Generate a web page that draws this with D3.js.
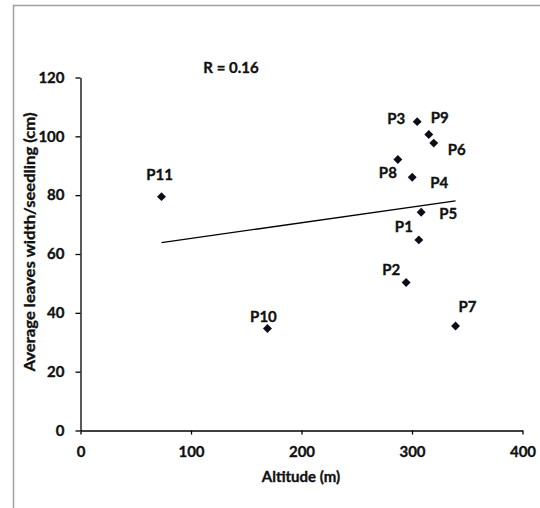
<!DOCTYPE html>
<html><head><meta charset="utf-8">
<script src="https://cdn.jsdelivr.net/npm/d3@7"></script>
<style>
html,body{margin:0;padding:0;background:#fff;}
svg text{font-family:Lato,"Open Sans",sans-serif;font-weight:bold;fill:#111;stroke:#111;stroke-width:0.35px;}
</style></head>
<body>
<svg id="chart" width="540" height="508"></svg>
<script>
// ---- data ----
const pointNames = ["P1","P2","P3","P4","P5","P6","P7","P8","P9","P10","P11"];
const altitude   = [306.2, 294.7, 304.7, 300.2, 308.3, 319.7, 339.4, 287.2, 315.2, 169.2, 73.3];
const leafWidth  = [64.8, 50.3, 105.0, 86.1, 74.2, 97.7, 35.5, 92.1, 100.6, 34.7, 79.5];
const xTicks = [0, 100, 200, 300, 400];
const yTicks = [0, 20, 40, 60, 80, 100, 120];
const rLabel = "R = 0.16";
const xTitle = "Altitude (m)";
const yTitle = "Average leaves width/seedling (cm)";

// ---- layout (label offsets in px relative to marker) ----
const labelLayout = {
  P1:{dx:-24,dy:-8,a:"start"}, P2:{dx:-24,dy:-8,a:"start"}, P3:{dx:-30,dy:2,a:"start"},
  P4:{dx:18,dy:11,a:"start"}, P5:{dx:18,dy:7,a:"start"}, P6:{dx:14,dy:12,a:"start"},
  P7:{dx:3,dy:-14,a:"start"}, P8:{dx:-19,dy:18,a:"start"}, P9:{dx:2,dy:-12,a:"start"},
  P10:{dx:-4,dy:-6,a:"middle"}, P11:{dx:-2,dy:-17,a:"middle"}
};

const svg = d3.select("#chart");
const x = d3.scaleLinear().domain([0,400]).range([80.5,522.5]);
const y = d3.scaleLinear().domain([0,120]).range([430.5,77.5]);

// frame
svg.append("path").attr("d","M13.5,508V5.5H540").attr("fill","none").attr("stroke","#a0a0a0").attr("stroke-width",1.5);

// axes
const xAxis = svg.append("g").attr("transform",`translate(0,${y(0)})`)
  .call(d3.axisBottom(x).tickValues(xTicks).tickSize(4).tickSizeOuter(0).tickPadding(12));
xAxis.select(".domain").attr("stroke","#000").attr("stroke-width",1.3);
xAxis.selectAll(".tick line").attr("stroke","#000").attr("stroke-width",1.3);
xAxis.selectAll("text").attr("font-size",15).attr("font-family","Lato").attr("font-weight","bold").attr("fill","#111");

const yAxis = svg.append("g").attr("transform",`translate(${x(0)},0)`)
  .call(d3.axisLeft(y).tickValues(yTicks).tickSize(5).tickSizeOuter(0).tickPadding(11));
yAxis.select(".domain").attr("stroke","#000").attr("stroke-width",1.3);
yAxis.selectAll(".tick line").attr("stroke","#000").attr("stroke-width",1.3);
yAxis.selectAll("text").attr("font-size",15).attr("font-family","Lato").attr("font-weight","bold").attr("fill","#111");

// titles
svg.append("text").attr("x",301).attr("y",482).attr("text-anchor","middle").attr("font-size",15).text(xTitle);
svg.append("text").attr("transform","translate(35,242) rotate(-90)").attr("text-anchor","middle")
  .attr("font-size",15).attr("textLength",259).attr("lengthAdjust","spacingAndGlyphs").text(yTitle);
svg.append("text").attr("x",231).attr("y",73).attr("text-anchor","middle").attr("font-size",15).text(rLabel);

// trend line (least squares)
const n = altitude.length;
const mx = d3.mean(altitude), my = d3.mean(leafWidth);
let sxy=0, sxx=0;
for(let i=0;i<n;i++){ sxy+=(altitude[i]-mx)*(leafWidth[i]-my); sxx+=(altitude[i]-mx)**2; }
const slope = sxy/sxx, icpt = my - slope*mx;
const [x0,x1] = d3.extent(altitude);
svg.append("line").attr("x1",x(x0)).attr("y1",y(icpt+slope*x0)).attr("x2",x(x1)).attr("y2",y(icpt+slope*x1))
  .attr("stroke","#000").attr("stroke-width",1.3);

// points
const pts = pointNames.map((p,i)=>({name:p, x:altitude[i], y:leafWidth[i]}));
svg.append("g").selectAll("path").data(pts).join("path")
  .attr("d",d3.symbol().type(d3.symbolSquare).size(40))
  .attr("transform",d=>`translate(${x(d.x)},${y(d.y)}) rotate(45)`)
  .attr("fill","#0d0d1a");

svg.append("g").selectAll("text").data(pts).join("text")
  .attr("x",d=>x(d.x)+labelLayout[d.name].dx)
  .attr("y",d=>y(d.y)+labelLayout[d.name].dy)
  .attr("text-anchor",d=>labelLayout[d.name].a)
  .attr("font-size",15).text(d=>d.name);
</script>
</body></html>
